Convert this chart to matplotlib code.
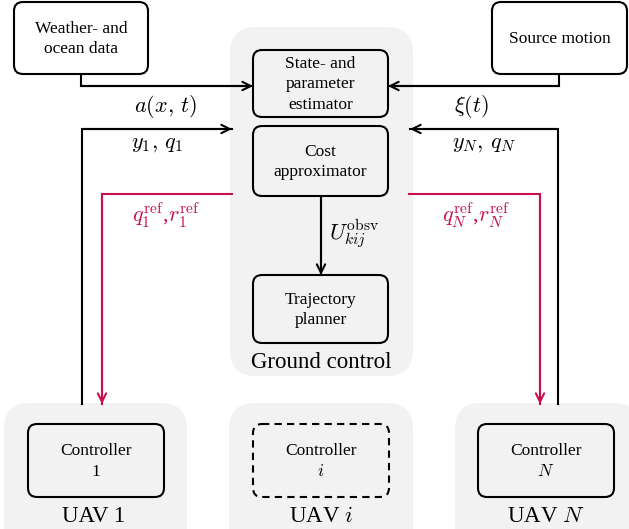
import matplotlib
matplotlib.use("Agg")
import matplotlib.pyplot as plt
from matplotlib.patches import FancyBboxPatch

plt.rcParams['font.family'] = ['Liberation Serif', 'DejaVu Serif']
plt.rcParams['mathtext.fontset'] = 'cm'

# ---- content ----
box_labels = {
    'weather': "Weather- and\nocean data",
    'source': "Source motion",
    'estimator': "State- and\nparameter\nestimator",
    'cost': "Cost\napproximator",
    'planner': "Trajectory\nplanner",
    'ctrl1': "Controller\n1",
    'ctrli': "Controller\n$i$",
    'ctrlN': "Controller\n$N$",
}
group_labels = ["Ground control", "UAV 1", "UAV $i$", "UAV $N$"]
signal_labels = [r"$a(x,\,t)$", r"$y_1,\,q_1$", r"$\xi(t)$", r"$y_N,\,q_N$",
                 r"$q_1^{\mathrm{ref}}$,$r_1^{\mathrm{ref}}$",
                 r"$q_N^{\mathrm{ref}}$,$r_N^{\mathrm{ref}}$",
                 r"$U_{kij}^{\mathrm{obsv}}$"]

RED = '#c8104a'
GRAY = '#f2f2f2'
BOX_FS = 12.5
GROUP_FS = 16.5
SIG_FS = 16

fig = plt.figure(figsize=(6.29, 5.29), dpi=100)
ax = fig.add_axes([0, 0, 1, 1])
ax.set_xlim(0, 629)
ax.set_ylim(529, 0)
ax.axis('off')


def bg(x0, y0, x1, y1, r=26):
    ax.add_patch(FancyBboxPatch((x0 + r, y0 + r), x1 - x0 - 2 * r, y1 - y0 - 2 * r,
                                boxstyle=f"round,pad={r},rounding_size={r}",
                                fc=GRAY, ec='none', zorder=0))


def box(x0, y0, x1, y1, key, ls='-', fc='white', fs=BOX_FS, r=9):
    ax.add_patch(FancyBboxPatch((x0 + r, y0 + r), x1 - x0 - 2 * r, y1 - y0 - 2 * r,
                                boxstyle=f"round,pad={r},rounding_size={r}",
                                fc=fc, ec='black', lw=1.5, ls=ls, zorder=2))
    ax.text((x0 + x1) / 2, (y0 + y1) / 2 + 1, box_labels[key], ha='center', va='center',
            fontsize=fs, linespacing=1.38, zorder=3)


# backgrounds
bg(230, 27, 413, 376)
bg(4, 403, 187, 560)
bg(229, 403, 413, 560)
bg(455, 403, 640, 560)

# boxes
box(14, 2, 148, 74, 'weather')
box(492, 2, 627, 74, 'source')
box(253, 50, 388, 117, 'estimator', fc=GRAY)
box(253, 126, 388, 196, 'cost', fc=GRAY)
box(253, 275, 388, 343, 'planner', fc=GRAY)
box(28, 424, 164, 497, 'ctrl1', fc=GRAY)
box(253, 424, 389, 497, 'ctrli', ls=(0, (3.5, 2.5)), fc=GRAY)
box(478, 424, 614, 497, 'ctrlN', fc=GRAY)

# group labels
ax.text(321, 363, group_labels[0], ha='center', va='center', fontsize=GROUP_FS)
ax.text(94, 517, group_labels[1], ha='center', va='center', fontsize=GROUP_FS)
ax.text(321, 517, group_labels[2], ha='center', va='center', fontsize=GROUP_FS)
ax.text(546, 517, group_labels[3], ha='center', va='center', fontsize=GROUP_FS)


def path(pts, color='black'):
    xs = [p[0] for p in pts]
    ys = [p[1] for p in pts]
    ax.plot(xs, ys, color=color, lw=1.5, solid_joinstyle='miter', zorder=1)
    ax.annotate('', xy=pts[-1], xytext=pts[-2],
                arrowprops=dict(arrowstyle='->,head_length=0.6,head_width=0.3',
                                color=color, lw=1.5, shrinkA=0, shrinkB=0),
                zorder=1)


# black signal paths
path([(81, 74), (81, 86), (253, 86)])
path([(82, 404), (82, 129), (232, 129)])
path([(559, 74), (559, 86), (388, 86)])
path([(558, 404), (558, 129), (410, 129)])
path([(321, 196), (321, 275)])

# red reference paths
path([(232, 194), (102, 194), (102, 404)], color=RED)
path([(409, 194), (540, 194), (540, 404)], color=RED)

# signal labels
ax.text(165, 107, signal_labels[0], ha='center', va='center', fontsize=SIG_FS)
ax.text(157, 145, signal_labels[1], ha='center', va='center', fontsize=SIG_FS)
ax.text(471, 107, signal_labels[2], ha='center', va='center', fontsize=SIG_FS)
ax.text(484, 145, signal_labels[3], ha='center', va='center', fontsize=SIG_FS)
ax.text(166, 215, signal_labels[4], ha='center', va='center', fontsize=SIG_FS, color=RED)
ax.text(476, 215, signal_labels[5], ha='center', va='center', fontsize=SIG_FS, color=RED)
ax.text(354, 234, signal_labels[6], ha='center', va='center', fontsize=SIG_FS)

fig.savefig('out.png', dpi=100)
